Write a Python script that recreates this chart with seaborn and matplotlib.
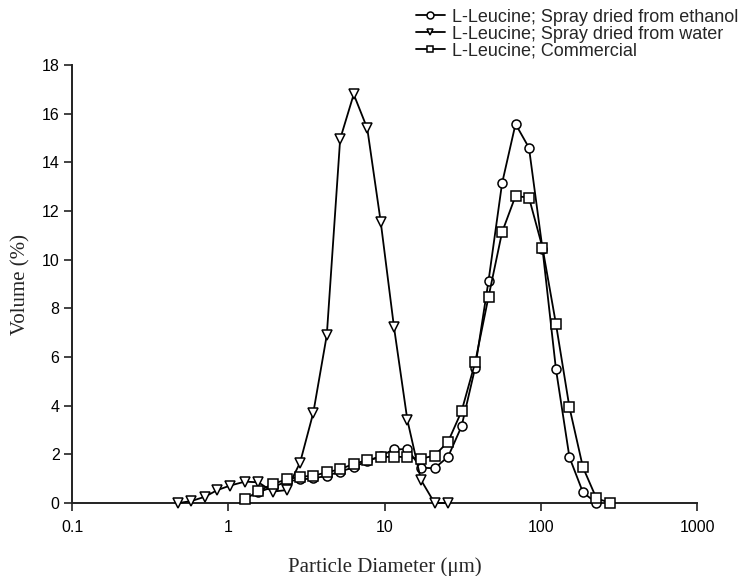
import matplotlib
matplotlib.use("Agg")
import matplotlib.pyplot as plt
import matplotlib.ticker as mticker
import seaborn as sns
import pandas as pd

# Particle size grid (µm)
size_water = [0.48, 0.58, 0.71, 0.85, 1.03, 1.28, 1.56, 1.92, 2.36, 2.88, 3.5,
              4.27, 5.2, 6.35, 7.75, 9.45, 11.5, 14.0, 17.1, 20.9, 25.5]
vol_water = [0.0, 0.08, 0.26, 0.53, 0.72, 0.88, 0.85, 0.47, 0.53, 1.66, 3.71,
             6.9, 14.96, 16.8, 15.4, 11.56, 7.22, 3.41, 0.95, 0.0, 0.0]

size_ethanol = [1.56, 1.92, 2.36, 2.88, 3.5, 4.27, 5.2, 6.35, 7.75, 9.45, 11.5,
                14.0, 17.1, 20.9, 25.5, 31.1, 38.0, 46.3, 56.5, 68.9, 84.0,
                102.5, 125, 152.5, 186, 227]
vol_ethanol = [0.45, 0.65, 0.88, 0.97, 1.01, 1.12, 1.29, 1.47, 1.73, 1.93, 2.21,
               2.21, 1.45, 1.43, 1.9, 3.15, 5.56, 9.14, 13.14, 15.58, 14.6,
               10.45, 5.5, 1.88, 0.44, 0.0]

size_comm = [1.28, 1.56, 1.92, 2.36, 2.88, 3.5, 4.27, 5.2, 6.35, 7.75, 9.45,
             11.5, 14.0, 17.1, 20.9, 25.5, 31.1, 38.0, 46.3, 56.5, 68.9, 84.0,
             102.5, 125, 152.5, 186, 227, 277]
vol_comm = [0.15, 0.49, 0.78, 0.97, 1.08, 1.12, 1.26, 1.39, 1.61, 1.76, 1.88,
            1.91, 1.88, 1.82, 1.95, 2.52, 3.77, 5.78, 8.48, 11.13, 12.62, 12.55,
            10.5, 7.36, 3.93, 1.47, 0.19, 0.01]

labels = ["L-Leucine; Spray dried from ethanol",
          "L-Leucine; Spray dried from water",
          "L-Leucine; Commercial"]
markers = ["o", "v", "s"]

x_ticks = [0.1, 1, 10, 100, 1000]
x_tick_labels = ["0.1", "1", "10", "100", "1000"]
y_ticks = [0, 2, 4, 6, 8, 10, 12, 14, 16, 18]

sns.set_theme(style="ticks")
plt.rcParams['font.family'] = ['Liberation Sans', 'DejaVu Sans']

fig = plt.figure(figsize=(7.4, 5.76), dpi=100)
ax = fig.add_axes([0.0973, 0.1267, 0.8447, 0.7603])

series = [(size_ethanol, vol_ethanol), (size_water, vol_water), (size_comm, vol_comm)]
for (xs, ys), lab, mk in zip(series, labels, markers):
    df = pd.DataFrame({"size": xs, "vol": ys})
    sns.lineplot(data=df, x="size", y="vol", ax=ax, color="black", linewidth=1.3,
                 marker=mk, markersize=6.5, markerfacecolor="white",
                 markeredgecolor="black", markeredgewidth=1.1, label=lab,
                 estimator=None, sort=False, clip_on=False, zorder=3)

ax.set_xscale("log")
ax.set_xlim(0.1, 1000)
ax.set_ylim(0, 18)
ax.set_xticks(x_ticks)
ax.set_xticklabels(x_tick_labels)
ax.xaxis.set_minor_locator(mticker.NullLocator())
ax.set_yticks(y_ticks)
ax.tick_params(axis="both", labelsize=11.5, width=1.2, length=5.5, color="#222222",
               labelcolor="black", direction="out")
ax.tick_params(axis="x", pad=7)
for side in ["top", "right"]:
    ax.spines[side].set_visible(False)
for side in ["left", "bottom"]:
    ax.spines[side].set_linewidth(1.4)
    ax.spines[side].set_color("#222222")

ax.set_xlabel("Particle Diameter (μm)", family=["Liberation Serif", "DejaVu Serif"],
              fontsize=15, labelpad=16)
ax.set_ylabel("Volume (%)", family=["Liberation Serif", "DejaVu Serif"],
              fontsize=15, labelpad=8)

leg = ax.legend(loc="upper right", bbox_to_anchor=(0.998, 0.985),
                bbox_transform=fig.transFigure,
                frameon=False, fontsize=13, handlelength=1.6, handletextpad=0.4,
                labelspacing=0.0, borderaxespad=0, borderpad=0)
for h in leg.legend_handles:
    h.set_markersize(5)

fig.savefig("out.png", dpi=100)
